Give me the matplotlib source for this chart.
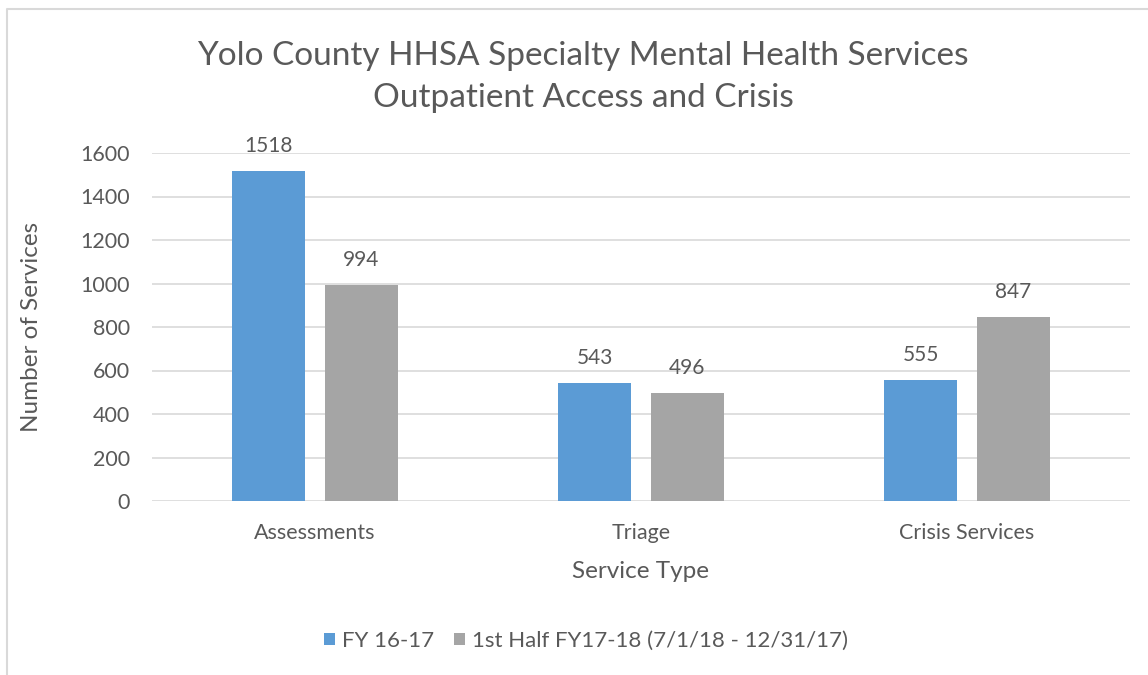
import numpy as np
import matplotlib.pyplot as plt
from matplotlib.lines import Line2D

categories = ['Assessments', 'Triage', 'Crisis Services']
fy1617 = [1518, 543, 555]
half1718 = [994, 496, 847]
series_names = ['FY 16-17', '1st Half FY17-18 (7/1/18 - 12/31/17)']
yticks = [0, 200, 400, 600, 800, 1000, 1200, 1400, 1600]

plt.rcParams['font.family'] = ['Lato', 'DejaVu Sans']
txt = '#595959'
blue = '#5B9BD5'
gray = '#A5A5A5'

W, H = 1148, 675
fig = plt.figure(figsize=(W / 100, H / 100), dpi=100)
ax = fig.add_axes([152 / W, 1 - 501 / H, (1130 - 152) / W, (501 - 153) / H])

x = np.arange(len(categories))
bw = 0.224
off = (bw + 0.061) / 2
b1 = ax.bar(x - off, fy1617, bw, color=blue, label=series_names[0], zorder=3)
b2 = ax.bar(x + off, half1718, bw, color=gray, label=series_names[1], zorder=3)

for bars in (b1, b2):
    for r in bars:
        ax.annotate(str(int(r.get_height())), (r.get_x() + r.get_width() / 2, r.get_height()),
                    xytext=(0, 25), textcoords='offset pixels', ha='center', va='center',
                    fontsize=15, color=txt)

ax.set_xlim(-0.5, 2.5)
ax.set_ylim(0, 1600)
ax.set_yticks(yticks)
ax.set_xticks(x)
ax.set_xticklabels(categories)
ax.yaxis.grid(True, color='#D9D9D9', linewidth=1.2, zorder=0)
for s in ax.spines.values():
    s.set_visible(False)
ax.tick_params(axis='both', length=0, labelsize=15.5, colors=txt)
ax.tick_params(axis='y', pad=16)
ax.tick_params(axis='x', pad=16)

ax.text(0.5, (501 - 571) / 348, 'Service Type', transform=ax.transAxes, ha='center', va='center',
        fontsize=17.5, color=txt)
ax.text((32 - 152) / 978, 0.5, 'Number of Services', transform=ax.transAxes, ha='center', va='center',
        rotation=90, fontsize=17.5, color=txt)

fig.text(583 / W, 1 - 77 / H, 'Yolo County HHSA Specialty Mental Health Services\nOutpatient Access and Crisis',
         ha='center', va='center', fontsize=24, color=txt, linespacing=1.5)

fig.legend(loc='center', bbox_to_anchor=(586 / W, 1 - 641 / H), ncol=2, frameon=False,
           fontsize=16, labelcolor=txt, handlelength=0.5, handleheight=0.5,
           handletextpad=0.3, columnspacing=0.9)

# chart frame (cropped on right/bottom)
fig.add_artist(Line2D([7 / W, 7 / W, 1], [0, 1 - 9 / H, 1 - 9 / H], transform=fig.transFigure,
                      color='#D9D9D9', linewidth=1.5))

fig.savefig('out.png', dpi=100)
